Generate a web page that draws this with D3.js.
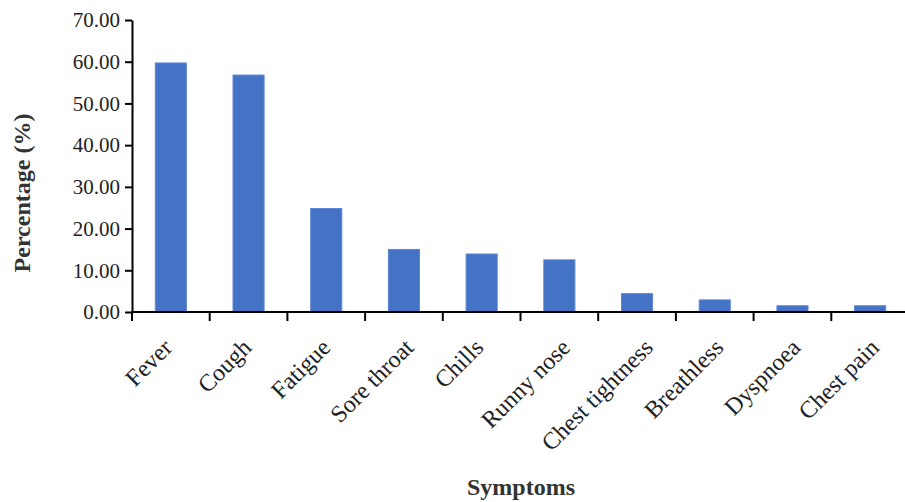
<!DOCTYPE html>
<meta charset="utf-8">
<head>
	<title>Symptoms</title>
</head>
<style>
body{
	margin: 0;
	background: #fff;
}
svg text{
	font-family: "Liberation Serif", "Times New Roman", serif;
	fill: #222;
}
.axis path, .axis line{
	stroke: #000;
	stroke-width: 2px;
}
.bar{
	fill: #4472c4;
	stroke: #5b86d4;
	stroke-width: 1px;
}
.title{
	font-weight: bold;
	font-size: 24px;
	fill: #333;
}
</style>
<body>
<svg width="905" height="502"></svg>

<script src="https://cdnjs.cloudflare.com/ajax/libs/d3/7.8.5/d3.min.js"></script>
<script>

var symptoms = ['Fever', 'Cough', 'Fatigue', 'Sore throat', 'Chills', 'Runny nose', 'Chest tightness', 'Breathless', 'Dyspnoea', 'Chest pain'];
var percent = [59.7, 56.8, 24.8, 15.0, 13.9, 12.5, 4.4, 2.9, 1.5, 1.5];
var yTicks = [0, 10, 20, 30, 40, 50, 60, 70];

var svg = d3.select('svg');
var plotLeft = 132, plotRight = 909, plotTop = 20, plotBottom = 312;

var x = d3.scaleBand()
	.domain(symptoms)
	.range([plotLeft, plotRight])
	.paddingInner(0.6)
	.paddingOuter(0.3);

var y = d3.scaleLinear()
	.domain([0, 70])
	.range([plotBottom, plotTop]);

// bars
svg.append('g').selectAll('rect')
	.data(percent)
	.enter()
	.append('rect')
	.attr('class', 'bar')
	.attr('x', function(d, i){ return x(symptoms[i]); })
	.attr('y', function(d){ return y(d); })
	.attr('width', x.bandwidth())
	.attr('height', function(d){ return y(0) - y(d); });

// y axis
var yAxis = svg.append('g')
	.attr('class', 'axis')
	.attr('transform', 'translate(' + plotLeft + ',0)')
	.call(d3.axisLeft(y).tickValues(yTicks).tickSize(7).tickSizeOuter(0)
		.tickFormat(d3.format('.2f')));
yAxis.selectAll('text')
	.attr('x', -12)
	.style('font-size', '21px');

// x axis, ticks sit between the categories
var xAxis = svg.append('g')
	.attr('class', 'axis');
xAxis.append('line')
	.attr('x1', plotLeft - 1).attr('x2', plotRight)
	.attr('y1', plotBottom).attr('y2', plotBottom);
xAxis.selectAll('.tk')
	.data(symptoms)
	.enter()
	.append('line')
	.attr('class', 'tk')
	.attr('x1', function(d, i){ return plotLeft + i * x.step(); })
	.attr('x2', function(d, i){ return plotLeft + i * x.step(); })
	.attr('y1', plotBottom).attr('y2', plotBottom + 9);

xAxis.selectAll('text')
	.data(symptoms)
	.enter()
	.append('text')
	.attr('text-anchor', 'end')
	.style('font-size', '24px')
	.text(function(d){ return d; })
	.attr('transform', function(d){
		// longer labels shift a bit to the right, as in the original
		var len = this.getComputedTextLength();
		var cx = x(d) + x.bandwidth() / 2 - 6 + 0.16 * len;
		return 'translate(' + cx + ',' + (plotBottom + 37) + ') rotate(-45)';
	});

// titles
svg.append('text')
	.attr('class', 'title')
	.attr('text-anchor', 'middle')
	.attr('transform', 'translate(30,193) rotate(-90)')
	.text('Percentage (%)');

svg.append('text')
	.attr('class', 'title')
	.attr('text-anchor', 'middle')
	.attr('x', 521)
	.attr('y', 495)
	.text('Symptoms');

</script>
</body>
</html>
